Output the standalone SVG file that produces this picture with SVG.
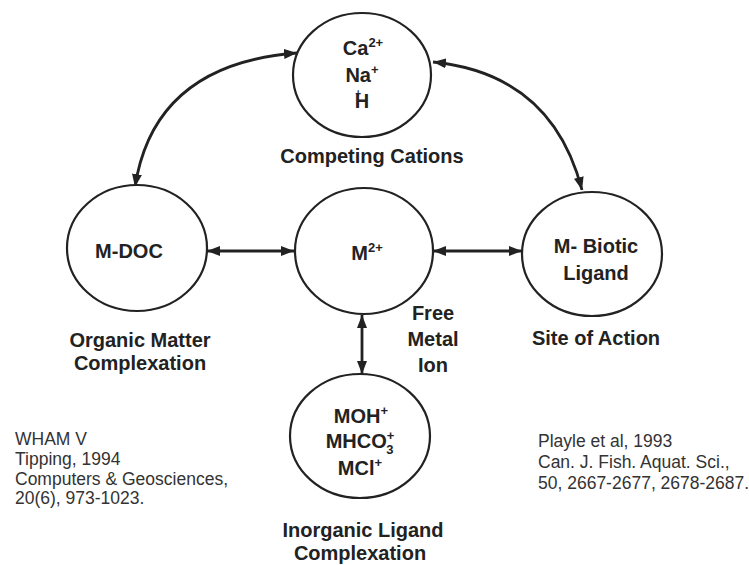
<svg xmlns="http://www.w3.org/2000/svg" width="749" height="565" viewBox="0 0 749 565">
<style>
.node ellipse{fill:#fff;stroke:#222;stroke-width:2.2}
.t{font-family:"Liberation Sans",Arial,sans-serif;font-weight:bold;font-size:20px;fill:#222;text-anchor:middle}
.c{font-family:"Liberation Sans",Arial,sans-serif;font-size:17.5px;fill:#333}
.sup{font-size:13px}
.conn path,.conn line{fill:none;stroke:#222;stroke-width:2.8;marker-start:url(#ah);marker-end:url(#ah)}
</style>
<defs>
<marker id="ah" viewBox="0 0 13 10" refX="13" refY="5" markerWidth="13" markerHeight="10" markerUnits="userSpaceOnUse" orient="auto-start-reverse">
<path d="M0,0 L13,5 L0,10 Z" fill="#222"/>
</marker>
</defs>
<rect width="749" height="565" fill="#fff"/>
<g class="conn">
<path d="M135,187 Q154,64 297,53"/>
<path d="M433,62 Q552,74 582,190"/>
<line x1="207" y1="251" x2="294" y2="251"/>
<line x1="433" y1="251" x2="522" y2="251"/>
<line x1="362" y1="315" x2="362" y2="374"/>
</g>
<g id="cations" class="node">
<ellipse cx="362" cy="75" rx="69" ry="62"/>
<text class="t" x="363" y="55">Ca<tspan class="sup" dy="-8">2+</tspan></text>
<text class="t" x="362" y="82">Na<tspan class="sup" dy="-8">+</tspan></text>
<text class="t" x="362" y="108">H<tspan font-size="10" dx="-14" dy="-11">+</tspan></text>
<text class="t" x="372" y="163">Competing Cations</text>
</g>
<g id="mdoc" class="node">
<ellipse cx="137" cy="248" rx="70" ry="63"/>
<text class="t" x="129" y="258">M-DOC</text>
<text class="t" x="140" y="347">Organic Matter</text>
<text class="t" x="140" y="370">Complexation</text>
</g>
<g id="m2" class="node">
<ellipse cx="364" cy="251" rx="69" ry="63"/>
<text class="t" x="367" y="260">M<tspan class="sup" dy="-8">2+</tspan></text>
<text class="t" x="433" y="320">Free</text>
<text class="t" x="433" y="346">Metal</text>
<text class="t" x="433" y="372">Ion</text>
</g>
<g id="biotic" class="node">
<ellipse cx="592" cy="254" rx="70" ry="62"/>
<text class="t" x="596" y="253">M- Biotic</text>
<text class="t" x="596" y="280">Ligand</text>
<text class="t" x="596" y="345">Site of Action</text>
</g>
<g id="inorganic" class="node">
<ellipse cx="360" cy="436" rx="70" ry="62"/>
<text class="t" x="361" y="423">MOH<tspan class="sup" dy="-8">+</tspan></text>
<text class="t" x="360" y="448">MHCO<tspan class="sup" dy="-8">+</tspan><tspan class="sup" dx="-8" dy="14">3</tspan></text>
<text class="t" x="360" y="475">MCl<tspan class="sup" dy="-8">+</tspan></text>
<text class="t" x="363" y="537">Inorganic Ligand</text>
<text class="t" x="360" y="560">Complexation</text>
</g>
<g id="ref-wham">
<text class="c" x="15" y="445">WHAM V</text>
<text class="c" x="15" y="465">Tipping, 1994</text>
<text class="c" x="15" y="485">Computers &amp; Geosciences,</text>
<text class="c" x="15" y="504">20(6), 973-1023.</text>
</g>
<g id="ref-playle">
<text class="c" x="538" y="447">Playle et al, 1993</text>
<text class="c" x="538" y="468">Can. J. Fish. Aquat. Sci.,</text>
<text class="c" x="538" y="489">50, 2667-2677, 2678-2687.</text>
</g>
</svg>
